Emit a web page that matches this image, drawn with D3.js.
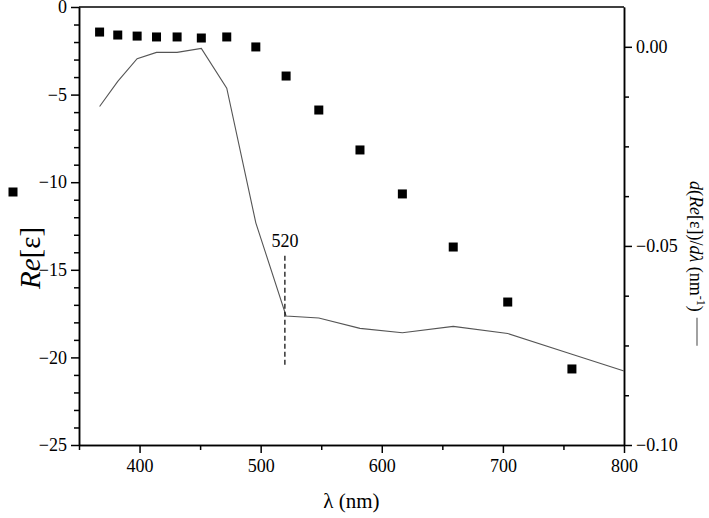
<!DOCTYPE html>
<html>
<head>
<meta charset="utf-8">
<script src="https://cdn.jsdelivr.net/npm/d3@7"></script>
<style>
  body { margin: 0; background: #fff; }
</style>
</head>
<body>
<div id="chart"></div>
<script>
// wavelengths (nm) of the measured points
var lambda = [367, 382, 398, 414, 431, 451, 472, 496, 521, 548, 582, 617, 659, 704, 757];
// Re[eps] values (left axis, squares)
var reEps = [-1.43, -1.6, -1.66, -1.71, -1.71, -1.77, -1.71, -2.28, -3.94, -5.88, -8.16, -10.67, -13.7, -16.84, -20.66];
// derivative curve (right axis, grey line)
var derivLambda = [367, 382, 398, 414, 431, 451, 472, 496, 521, 548, 582, 617, 659, 704, 757, 800];
var derivVals = [-0.0150, -0.0087, -0.0030, -0.0014, -0.0014, -0.0004, -0.0104, -0.0442, -0.0676, -0.0681, -0.0707, -0.0718, -0.0702, -0.0720, -0.0772, -0.0814];
// tick values
var xMajor = [400, 500, 600, 700, 800];
var xMinor = [350, 450, 550, 650, 750];
var yLeftMajor = [-25, -20, -15, -10, -5, 0];
var yRightMajor = [-0.10, -0.05, 0.00];
// marked wavelength
var markLambda = 520;
var markRange = [-14.2, -20.5];

(function() {
    var FONT = "'Liberation Serif', 'DejaVu Serif', serif";
    var W = 709, H = 518;
    var mL = 79, mR = 624, mT = 7, mB = 445;

    var svg = d3.select("#chart").append("svg")
        .attr("width", W)
        .attr("height", H)
        .style("font-family", FONT);

    var x = d3.scaleLinear().domain([350, 800]).range([mL, mR]);
    var yL = d3.scaleLinear().domain([-25, 0]).range([mB, mT]);
    var yR = d3.scaleLinear().domain([-0.1, 0.01]).range([mB, mT]);

    var yLeftMinor = d3.range(-24, 0, 1).filter(function(v) { return v % 5 !== 0; });
    var yRightMinor = [-0.0875, -0.075, -0.0625, -0.0375, -0.025, -0.0125];

    function styleAxis(g) {
        g.attr("font-family", FONT).attr("font-size", 18);
        g.select(".domain").attr("stroke", "#000").attr("stroke-width", 1.5);
        g.selectAll(".tick line").attr("stroke", "#000").attr("stroke-width", 1.5);
        g.selectAll(".tick text").style("font-family", FONT).style("font-size", "18px");
    }

    // minor ticks (no labels)
    svg.append("g")
        .attr("transform", "translate(0," + mB + ")")
        .call(d3.axisBottom(x).tickValues(xMinor).tickSize(5).tickFormat("").tickSizeOuter(0))
        .call(styleAxis);
    svg.append("g")
        .attr("transform", "translate(" + mL + ",0)")
        .call(d3.axisLeft(yL).tickValues(yLeftMinor).tickSize(5).tickFormat("").tickSizeOuter(0))
        .call(styleAxis);
    svg.append("g")
        .attr("transform", "translate(" + mR + ",0)")
        .call(d3.axisRight(yR).tickValues(yRightMinor).tickSize(5).tickFormat("").tickSizeOuter(0))
        .call(styleAxis);

    // major ticks
    svg.append("g")
        .attr("transform", "translate(0," + mB + ")")
        .call(d3.axisBottom(x).tickValues(xMajor).tickSize(8).tickPadding(6).tickSizeOuter(0))
        .call(styleAxis);
    svg.append("g")
        .attr("transform", "translate(" + mL + ",0)")
        .call(d3.axisLeft(yL).tickValues(yLeftMajor).tickSize(8).tickPadding(4).tickSizeOuter(0))
        .call(styleAxis);
    svg.append("g")
        .attr("transform", "translate(" + mR + ",0)")
        .call(d3.axisRight(yR).tickValues(yRightMajor).tickSize(8).tickPadding(4)
            .tickFormat(d3.format(".2f")).tickSizeOuter(0))
        .call(styleAxis);

    // top frame
    svg.append("line")
        .attr("x1", mL).attr("x2", mR)
        .attr("y1", mT).attr("y2", mT)
        .attr("stroke", "#000").attr("stroke-width", 1.5);

    // derivative line
    var line = d3.line()
        .x(function(d, i) { return x(derivLambda[i]); })
        .y(function(d) { return yR(d); });

    svg.append("path")
        .datum(derivVals)
        .attr("d", line)
        .attr("fill", "none")
        .attr("stroke", "#555")
        .attr("stroke-width", 1.1);

    // squares
    var sq = 9;
    svg.selectAll("rect.pt")
        .data(reEps)
        .enter().append("rect")
        .attr("class", "pt")
        .attr("x", function(d, i) { return x(lambda[i]) - sq / 2; })
        .attr("y", function(d) { return yL(d) - sq / 2; })
        .attr("width", sq)
        .attr("height", sq)
        .attr("fill", "#000");

    // 520 marker
    svg.append("line")
        .attr("x1", x(markLambda)).attr("x2", x(markLambda))
        .attr("y1", yL(markRange[0])).attr("y2", yL(markRange[1]))
        .attr("stroke", "#000")
        .attr("stroke-width", 1.2)
        .attr("stroke-dasharray", "5,3");
    svg.append("text")
        .attr("x", x(markLambda))
        .attr("y", yL(markRange[0]) - 9)
        .attr("text-anchor", "middle")
        .style("font-size", "18px")
        .text(markLambda);

    // x label
    svg.append("text")
        .attr("x", (mL + mR) / 2)
        .attr("y", 508)
        .attr("text-anchor", "middle")
        .style("font-size", "21px")
        .text("\u03bb (nm)");

    // left label with square legend
    svg.append("rect")
        .attr("x", 13 - sq / 2).attr("y", 192 - sq / 2)
        .attr("width", sq).attr("height", sq)
        .attr("fill", "#000");
    var lt = svg.append("text")
        .attr("transform", "translate(40,258) rotate(-90)")
        .attr("text-anchor", "middle")
        .style("font-size", "29px");
    lt.append("tspan").style("font-style", "italic").text("Re");
    lt.append("tspan").text("[\u03b5]");

    // right label with line legend
    var rt = svg.append("text")
        .attr("transform", "translate(690,181) rotate(90)")
        .attr("text-anchor", "start")
        .style("font-size", "18px");
    rt.append("tspan").style("font-style", "italic").text("d");
    rt.append("tspan").text("(");
    rt.append("tspan").style("font-style", "italic").text("Re");
    rt.append("tspan").text("[\u03b5])/");
    rt.append("tspan").style("font-style", "italic").text("d\u03bb");
    rt.append("tspan").text(" (nm");
    rt.append("tspan").attr("dy", -7).style("font-size", "12px").text("-1");
    rt.append("tspan").attr("dy", 7).text(")");
    var rtLen = rt.node().getComputedTextLength();
    svg.append("line")
        .attr("x1", 697).attr("x2", 697)
        .attr("y1", 181 + rtLen + 6).attr("y2", 181 + rtLen + 34)
        .attr("stroke", "#555")
        .attr("stroke-width", 1.1);
})();
</script>
</body>
</html>
